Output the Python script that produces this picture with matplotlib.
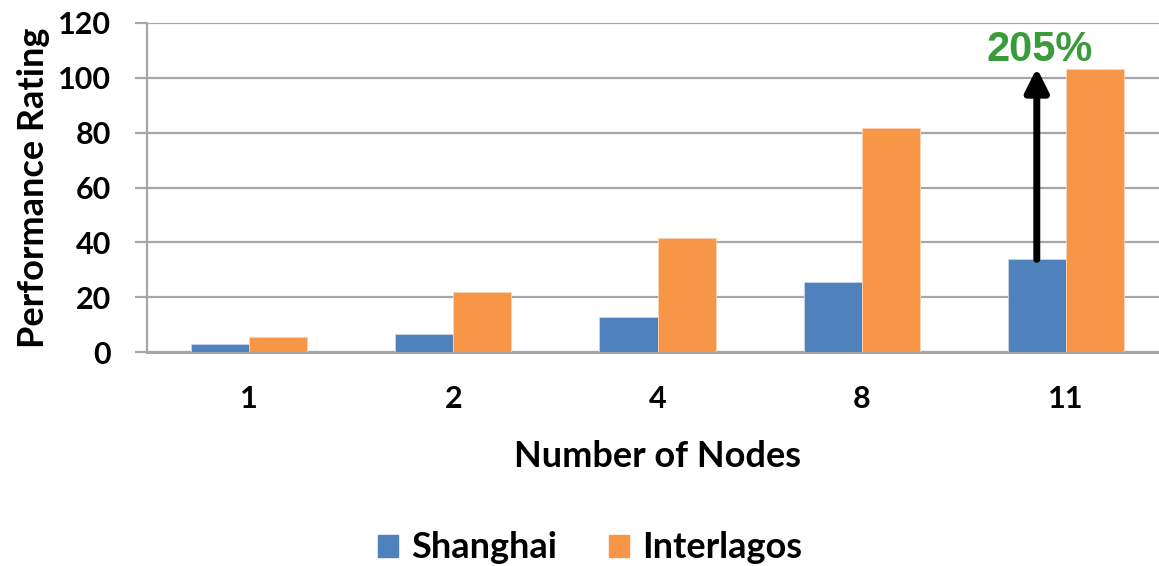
import matplotlib
matplotlib.use("Agg")
import matplotlib.pyplot as plt
import numpy as np
from matplotlib.patches import Patch

plt.rcParams['font.family'] = ['Lato', 'DejaVu Sans']

nodes = ['1', '2', '4', '8', '11']
shanghai = [3.1, 6.4, 12.7, 25.7, 33.8]
interlagos = [5.4, 21.8, 41.7, 81.7, 103.1]
yticks = [0, 20, 40, 60, 80, 100, 120]

blue = '#4f81bd'
orange = '#f79646'
grid_c = '#a6a6a6'

fig = plt.figure(figsize=(11.59, 5.66), dpi=100)
ax = fig.add_axes([147/1159, 1 - 352/566, 1021/1159, 329/566])

x = np.arange(len(nodes))
w = 0.285
ax.bar(x - w/2, shanghai, w, color=blue, edgecolor='#c9d6ea', linewidth=0.6, zorder=3)
ax.bar(x + w/2, interlagos, w, color=orange, edgecolor='#fbd3b4', linewidth=0.6, zorder=3)

ax.set_xlim(-0.5, len(nodes) - 0.5)
ax.set_ylim(0, 120)
ax.set_yticks(yticks)
ax.set_xticks(x)
ax.set_xticklabels(nodes)
ax.yaxis.grid(True, color=grid_c, linewidth=1.6, zorder=0)
ax.set_axisbelow(True)

for s in ['top', 'right']:
    ax.spines[s].set_visible(False)
ax.spines['left'].set_color(grid_c)
ax.spines['left'].set_linewidth(1.6)
ax.spines['bottom'].set_color(grid_c)
ax.spines['bottom'].set_linewidth(2.2)

ax.tick_params(axis='y', length=9, width=1.6, color=grid_c, pad=17, labelsize=22)
ax.tick_params(axis='x', length=0, pad=24, labelsize=22)
for lab in ax.get_xticklabels() + ax.get_yticklabels():
    lab.set_fontweight('bold')

ax.set_ylabel('Performance Rating', fontsize=26, fontweight='bold', labelpad=6)
ax.set_xlabel('Number of Nodes', fontsize=26, fontweight='bold', labelpad=19)

# speedup arrow on the last group
i = len(nodes) - 1
ax.annotate('', xy=(x[i] - w/2, interlagos[i] + 0.5), xytext=(x[i] - w/2, shanghai[i]),
            arrowprops=dict(arrowstyle='-|>,head_length=1.4,head_width=0.7',
                            color='black', lw=5, shrinkA=0, shrinkB=0), zorder=5)
gain = round((interlagos[i] / shanghai[i] - 1) * 100)
ax.text(x[i] - w/2 + 0.015, 110, f'{gain}%', color='#3a9b3a', fontsize=30,
        fontweight='bold', family=['Liberation Sans', 'DejaVu Sans'],
        ha='center', va='center', zorder=6)

handles = [Patch(color=blue, label='Shanghai'), Patch(color=orange, label='Interlagos')]
fig.legend(handles=handles, loc='center', bbox_to_anchor=(590/1159, 1 - 548/566),
           ncol=2, frameon=False, prop={'size': 26, 'weight': 'bold'},
           handlelength=0.55, handleheight=0.55, handletextpad=0.35, columnspacing=1.45)

fig.savefig('out.png', dpi=100)
